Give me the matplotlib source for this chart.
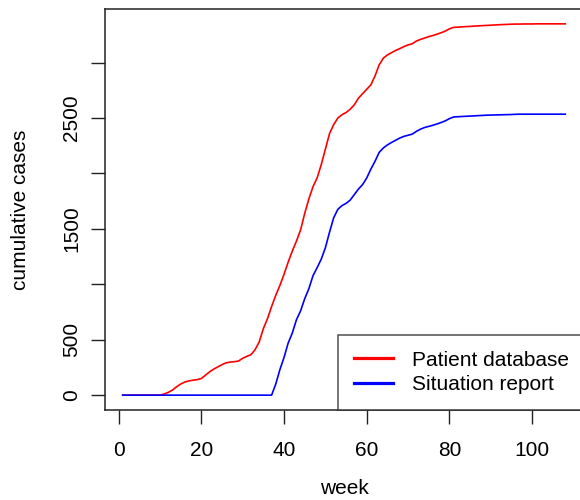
import numpy as np
import matplotlib
matplotlib.use("Agg")
import matplotlib.pyplot as plt
from matplotlib.lines import Line2D

plt.rcParams['font.family'] = ['Liberation Sans', 'DejaVu Sans']

weeks = list(range(1, 109))

# cumulative cases
patient_database = [
    0, 0, 0, 0, 0, 0, 0, 0, 0, 0,
    10, 25, 45, 75, 100, 118, 128, 135, 140, 150,
    180, 210, 235, 255, 275, 292, 298, 302, 308, 332,
    350, 365, 410, 480, 600, 690, 800, 900, 990, 1090,
    1200, 1300, 1390, 1490, 1640, 1770, 1880, 1960, 2080, 2220,
    2360, 2440, 2500, 2530, 2550, 2580, 2620, 2680, 2720, 2760,
    2800, 2880, 2980, 3040, 3070, 3090, 3110, 3127, 3145, 3160,
    3170, 3195, 3210, 3222, 3235, 3245, 3257, 3270, 3285, 3305,
    3318, 3320, 3323, 3325, 3327, 3330, 3332, 3334, 3336, 3338,
    3340, 3342, 3344, 3345, 3347, 3348, 3348, 3349, 3349, 3349,
    3350, 3350, 3350, 3350, 3350, 3350, 3350, 3350,
]
situation_report = [
    0, 0, 0, 0, 0, 0, 0, 0, 0, 0,
    0, 0, 0, 0, 0, 0, 0, 0, 0, 0,
    0, 0, 0, 0, 0, 0, 0, 0, 0, 0,
    0, 0, 0, 0, 0, 0, 0, 100, 230, 340,
    470, 560, 680, 760, 870, 960, 1077, 1150, 1227, 1330,
    1470, 1600, 1676, 1710, 1730, 1760, 1810, 1860, 1900, 1960,
    2040, 2110, 2190, 2230, 2258, 2280, 2300, 2320, 2335, 2345,
    2355, 2380, 2400, 2415, 2425, 2435, 2447, 2460, 2475, 2495,
    2510, 2512, 2514, 2516, 2518, 2520, 2522, 2524, 2526, 2527,
    2528, 2529, 2530, 2531, 2532, 2534, 2535, 2535, 2535, 2535,
    2535, 2535, 2535, 2535, 2535, 2535, 2535, 2535,
]

series_labels = ["Patient database", "Situation report"]
series_colors = ["#ff0000", "#0000ff"]

xtick_values = [0, 20, 40, 60, 80, 100]
ytick_values = [0, 500, 1000, 1500, 2000, 2500, 3000]
ytick_labels = ["0", "500", "", "1500", "", "2500", ""]

font_size = 15

fig = plt.figure(figsize=(5.8, 5.0), dpi=100)
ax = fig.add_axes([105 / 580, 90 / 500, 478 / 580, 401 / 500])

ax.plot(weeks, patient_database, color=series_colors[0], lw=1.2)
ax.plot(weeks, situation_report, color=series_colors[1], lw=1.2)

# R style 4% padding on both axes
xr = max(weeks) - min(weeks)
ax.set_xlim(min(weeks) - 0.04 * xr, max(weeks) + 0.04 * xr)
ymax = max(patient_database)
ax.set_ylim(-0.04 * ymax, 1.04 * ymax)

ax.set_xticks(xtick_values)
ax.set_xticklabels([str(v) for v in xtick_values], fontsize=font_size)
ax.set_yticks(ytick_values)
ax.set_yticklabels(ytick_labels, fontsize=font_size, rotation=90, va="center")

ax.tick_params(axis="both", direction="out", length=10, width=1, color="#222222")
ax.tick_params(axis="x", pad=12)
ax.tick_params(axis="y", pad=7)

for s in ax.spines.values():
    s.set_linewidth(1.1)
    s.set_color("#222222")

ax.set_xlabel("week", fontsize=font_size)
ax.set_ylabel("cumulative cases", fontsize=font_size)
ax.xaxis.set_label_coords(0.5, -0.197)
ax.xaxis.label.set_va("center")
ax.yaxis.set_label_coords(-0.176, 0.5)
ax.yaxis.label.set_va("center")

handles = [Line2D([], [], color=c, lw=2.3) for c in series_colors]
leg = ax.legend(handles, series_labels, loc="lower left",
                bbox_to_anchor=((338 - 105) / 478, 0), borderaxespad=0,
                fontsize=font_size, frameon=True, fancybox=False,
                handlelength=1.9, handletextpad=0.9, borderpad=0.75,
                labelspacing=0.28)
leg.get_frame().set_edgecolor("#222222")
leg.get_frame().set_linewidth(1.1)

fig.savefig("out.png", dpi=100)
